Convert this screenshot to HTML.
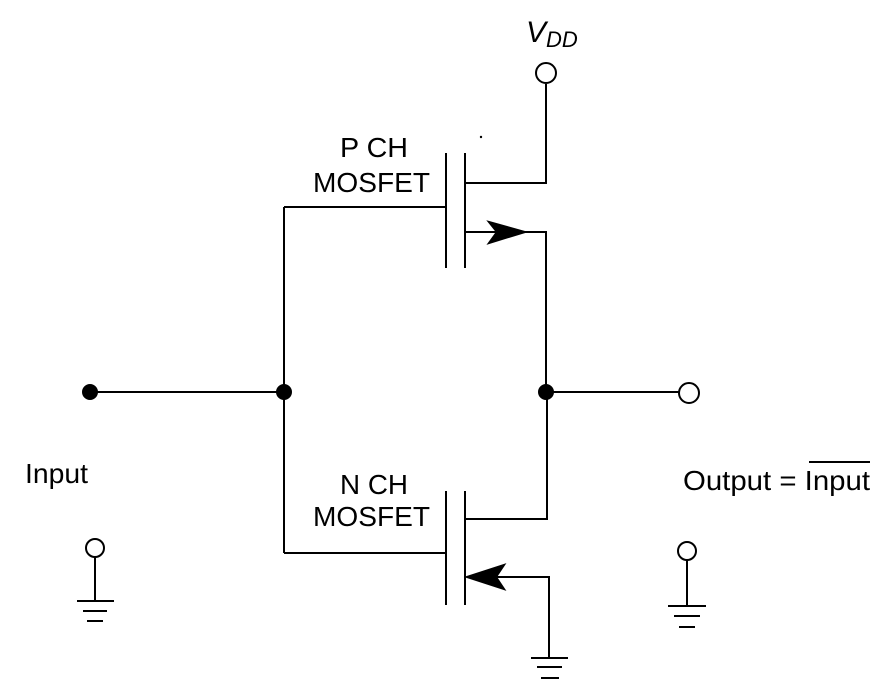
<!DOCTYPE html>
<html><head><style>body{margin:0;background:#fff}svg{display:block}</style></head><body>
<svg width="876" height="696" viewBox="0 0 876 696" xmlns="http://www.w3.org/2000/svg" font-family="Liberation Sans, sans-serif" font-size="28" fill="none" stroke="#000" stroke-width="2">
<!-- P channel -->
<line x1="446" y1="153" x2="446" y2="268"/>
<line x1="465" y1="153" x2="465" y2="268"/>
<polyline points="465,183 546,183 546,84"/>
<circle cx="546" cy="73" r="10"/>
<polyline points="465,232 546,232 546,392"/>
<polygon points="489,222 525,232 489,243 497,232" fill="#000"/>
<line x1="284" y1="207" x2="446" y2="207"/>
<!-- N channel -->
<line x1="446" y1="491" x2="446" y2="605"/>
<line x1="465" y1="491" x2="465" y2="605"/>
<polyline points="465,519 547,519 547,392"/>
<polyline points="467,577 549,577 549,658"/>
<polygon points="467,577 504,565 496,577 504,589" fill="#000"/>
<line x1="531" y1="658" x2="568" y2="658"/>
<line x1="537" y1="667" x2="562" y2="667"/>
<line x1="541" y1="678" x2="559" y2="678"/>
<line x1="284" y1="553" x2="446" y2="553"/>
<!-- input/gate -->
<line x1="90" y1="392" x2="284" y2="392"/>
<line x1="284" y1="207" x2="284" y2="553"/>
<circle cx="90" cy="392" r="7" fill="#000"/>
<circle cx="284" cy="392" r="7" fill="#000"/>
<circle cx="546" cy="392" r="7" fill="#000"/>
<line x1="546" y1="392" x2="679" y2="392"/>
<circle cx="689" cy="393" r="10"/>
<!-- left ground -->
<circle cx="95" cy="548" r="9"/>
<line x1="95" y1="557" x2="95" y2="601"/>
<line x1="77" y1="601" x2="114" y2="601"/>
<line x1="83" y1="611" x2="107" y2="611"/>
<line x1="87" y1="621" x2="103" y2="621"/>
<!-- right ground -->
<circle cx="687" cy="551" r="9"/>
<line x1="687" y1="560" x2="687" y2="606"/>
<line x1="668" y1="606" x2="706" y2="606"/>
<line x1="674" y1="616" x2="700" y2="616"/>
<line x1="679" y1="627" x2="695" y2="627"/>
<line x1="809" y1="462" x2="870" y2="462"/>
<g fill="#000" stroke="none">
<text x="526" y="42" font-style="italic" font-size="30">V<tspan font-size="22" dy="5">DD</tspan></text>
<circle cx="481" cy="137" r="1.2"/>
<text x="340" y="157" textLength="68" lengthAdjust="spacingAndGlyphs">P CH</text>
<text x="313" y="192" textLength="117" lengthAdjust="spacingAndGlyphs">MOSFET</text>
<text x="340" y="494" textLength="68" lengthAdjust="spacingAndGlyphs">N CH</text>
<text x="313" y="526" textLength="117" lengthAdjust="spacingAndGlyphs">MOSFET</text>
<text x="25" y="483" textLength="63" lengthAdjust="spacingAndGlyphs">Input</text>
<text x="683" y="490" textLength="187" lengthAdjust="spacingAndGlyphs">Output = Input</text>
</g>
</svg>
</body></html>
